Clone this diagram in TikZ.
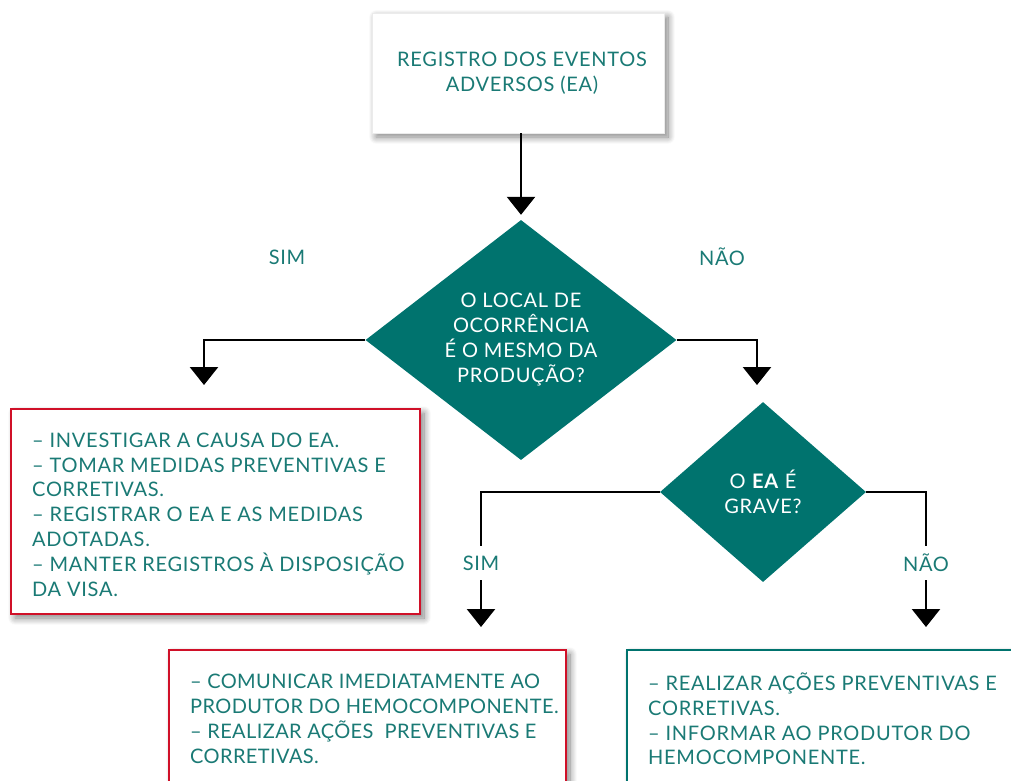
\documentclass[tikz,border=0pt]{standalone}
\usepackage{fontspec}
\setmainfont{Lato}[LetterSpace=3.6]
\usetikzlibrary{shapes.geometric,arrows.meta,shadows.blur}
\definecolor{tealtext}{RGB}{26,122,117}
\definecolor{tealfill}{RGB}{0,115,110}
\definecolor{boxred}{RGB}{208,16,40}
\begin{document}
\begin{tikzpicture}[x=1pt,y=-1pt,
  txt/.style={font=\fontsize{20}{24.8}\selectfont, text=tealtext, inner sep=0pt},
  shadowed/.style={blur shadow={shadow xshift=4pt, shadow yshift=-4pt, shadow blur radius=7pt, shadow blur steps=10, shadow opacity=50}},
  topbox/.style={rectangle, fill=white, draw=black!8, line width=0.5pt, shadowed},
  redbox/.style={rectangle, fill=white, draw=boxred, line width=2pt, shadowed},
  tealbox/.style={rectangle, fill=white, draw=tealfill, line width=2pt, shadowed},
  decision/.style={diamond, fill=tealfill, text=white, inner sep=0pt, align=center,
    font=\fontsize{20}{25}\selectfont},
  flow/.style={draw=black, line width=2.5pt, -{Triangle[width=28pt,length=18pt]}},
  lbl/.style={txt, fill=white, inner sep=3pt}
]
\useasboundingbox (0,0) rectangle (1011,780);
\clip (0,0) rectangle (1011,780);

% top box
\node[topbox, minimum width=292pt, minimum height=120pt] (top) at (518,73) {};
\node[txt, align=center] (toptxt) at (522,73) {REGISTRO DOS EVENTOS\\ADVERSOS (EA)};

% decision 1
\node[decision, minimum width=311pt, minimum height=240pt, aspect=1.3] (d1) at (521,340)
  {O LOCAL DE\\OCORRÊNCIA\\É O MESMO DA\\PRODUÇÃO?};

% decision 2
\node[decision, minimum width=206pt, minimum height=180pt, aspect=1.15] (d2) at (763,492)
  {O \textbf{EA} É\\GRAVE?};

% left red box
\node[redbox, minimum width=409pt, minimum height=205pt] (b1) at (215.5,511.5) {};
\node[txt, align=left, anchor=west] (t1) at (32,514.5)
  {– INVESTIGAR A CAUSA DO EA.\\– TOMAR MEDIDAS PREVENTIVAS E\\CORRETIVAS.\\– REGISTRAR O EA E AS MEDIDAS\\ADOTADAS.\\– MANTER REGISTROS À DISPOSIÇÃO\\DA VISA.};

% bottom middle red box
\node[redbox, minimum width=397pt, minimum height=150pt] (b2) at (367.5,725) {};
\node[txt, align=left, anchor=west, font=\fontsize{20}{24.8}\selectfont\addfontfeature{LetterSpace=2}] (t2) at (190,719)
  {– COMUNICAR IMEDIATAMENTE AO\\PRODUTOR DO HEMOCOMPONENTE.\\– REALIZAR AÇÕES\ \ PREVENTIVAS E\\CORRETIVAS.};

% bottom right teal box
\node[tealbox, minimum width=410pt, minimum height=150pt] (b3) at (832,725) {};
\node[txt, align=left, anchor=west] (t3) at (648,719)
  {– REALIZAR AÇÕES PREVENTIVAS E\\CORRETIVAS.\\– INFORMAR AO PRODUTOR DO\\HEMOCOMPONENTE.};

% connector end points
\coordinate (c1) at (204,385);
\coordinate (c2) at (757,385);
\coordinate (c3) at (481,627);
\coordinate (c4) at (926,627);

% connectors
\draw[flow] (top.south -| d1.north) -- ([yshift=5pt]d1.north);
\draw[flow] (d1.west) -| (c1);
\draw[flow] (d1.east) -| (c2);
\draw[flow] (d2.west) -| (c3);
\draw[flow] (d2.east) -| (c4);

% labels
\node[txt] (sim1) at (287,257) {SIM};
\node[txt] (nao1) at (722,257) {NÃO};
\node[lbl, minimum height=34pt] (sim2) at (481,563) {SIM};
\node[lbl, minimum height=34pt] (nao2) at (926,563) {NÃO};
\end{tikzpicture}
\end{document}
